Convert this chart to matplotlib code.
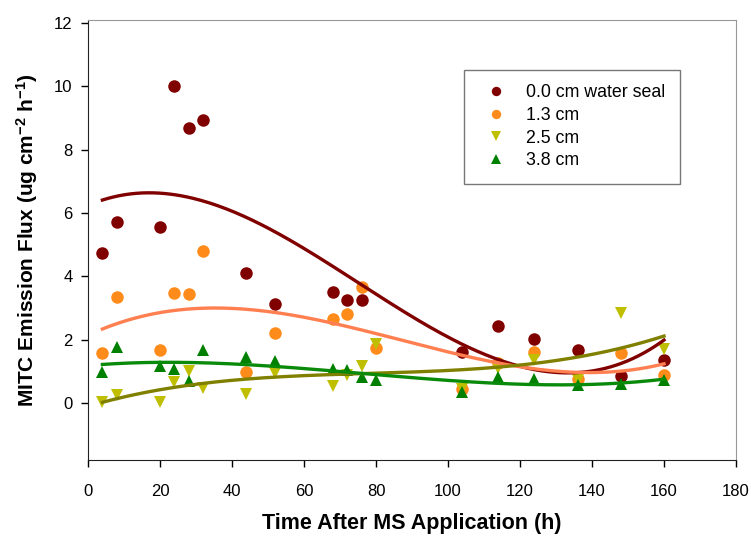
import numpy as np
import matplotlib
matplotlib.use("Agg")
import matplotlib.pyplot as plt

plt.rcParams['font.family'] = ['Liberation Sans', 'DejaVu Sans']
plt.rcParams['mathtext.fontset'] = 'custom'
plt.rcParams['mathtext.rm'] = 'Liberation Sans:bold'
plt.rcParams['mathtext.default'] = 'rm'

# sampling times (h)
t_all = [4, 8, 20, 24, 28, 32, 44, 52, 68, 72, 76, 80, 104, 114, 124, 136, 148, 160]
t_seal = [4, 8, 20, 24, 28, 32, 44, 52, 68, 72, 76, 104, 114, 124, 136, 148, 160]

# MITC flux values per water seal depth
flux_00 = [4.75, 5.73, 5.55, 10.0, 8.7, 8.95, 4.1, 3.12, 3.5, 3.26, 3.26, 1.6, 2.43, 2.03, 1.68, 0.84, 1.36]
flux_13 = [1.59, 3.36, 1.67, 3.47, 3.43, 4.8, 0.98, 2.22, 2.65, 2.81, 3.68, 1.74, 0.45, 1.26, 1.6, 0.75, 1.58, 0.88]
flux_25 = [0.02, 0.26, 0.02, 0.66, 1.0, 0.46, 0.28, 0.95, 0.53, 0.87, 1.16, 1.86, 0.44, 1.1, 1.37, 0.74, 2.84, 1.7]
flux_38 = [0.97, 1.77, 1.16, 1.07, 0.68, 1.68, 1.44, 1.34, 1.09, 1.05, 0.82, 0.74, 0.34, 0.82, 0.76, 0.57, 0.59, 0.74]

labels = ['0.0 cm water seal', '1.3 cm', '2.5 cm', '3.8 cm']
series = [(t_seal, flux_00), (t_all, flux_13), (t_all, flux_25), (t_all, flux_38)]
markers = ['o', 'o', 'v', '^']
mcolors = ['#800000', '#ff8c1a', '#bfbf00', '#008000']
lcolors = ['#800000', '#ff7f50', '#808000', '#0a8a0a']

fig = plt.figure(figsize=(7.51, 5.36), dpi=100)
ax = fig.add_axes([88/751, 76/536, 648/751, 440/536])

for (t, y), m, mc, lab in zip(series, markers, mcolors, labels):
    ax.plot(t, y, linestyle='none', marker=m, color=mc, markersize=9,
            markeredgewidth=0, label=lab)

# cubic regression curve for each series
for (t, y), lc in zip(series, lcolors):
    coef = np.polyfit(t, y, 3)
    xs = np.linspace(min(t), max(t), 200)
    ax.plot(xs, np.polyval(coef, xs), color=lc, linewidth=2.4)

ax.set_xlim(0, 180)
ax.set_ylim(-1.8, 12.1)
ax.set_xticks(np.arange(0, 181, 20))
ax.set_yticks(np.arange(0, 13, 2))
ax.tick_params(direction='out', length=5, width=1, labelsize=12, pad=6)
ax.tick_params(axis='x', pad=12)

for s in ['top', 'right']:
    ax.spines[s].set_color('#999999')
for s in ['left', 'bottom']:
    ax.spines[s].set_color('#222222')

ax.set_xlabel('Time After MS Application (h)', fontsize=15.5, fontweight='bold', labelpad=10)
ax.set_ylabel('MITC Emission Flux (ug cm$^{-2}$ h$^{-1}$)', fontsize=15,
              fontweight='bold', labelpad=10)

leg = ax.legend(loc='upper left', bbox_to_anchor=(376/648, 1 - 50/440), fontsize=12.8,
                frameon=True, fancybox=False, edgecolor='#555555',
                handlelength=2.0, handletextpad=0.7, borderpad=0.8,
                labelspacing=0.32, borderaxespad=0, markerscale=0.75)
leg.get_frame().set_linewidth(1)

fig.savefig('out.png', dpi=100)
